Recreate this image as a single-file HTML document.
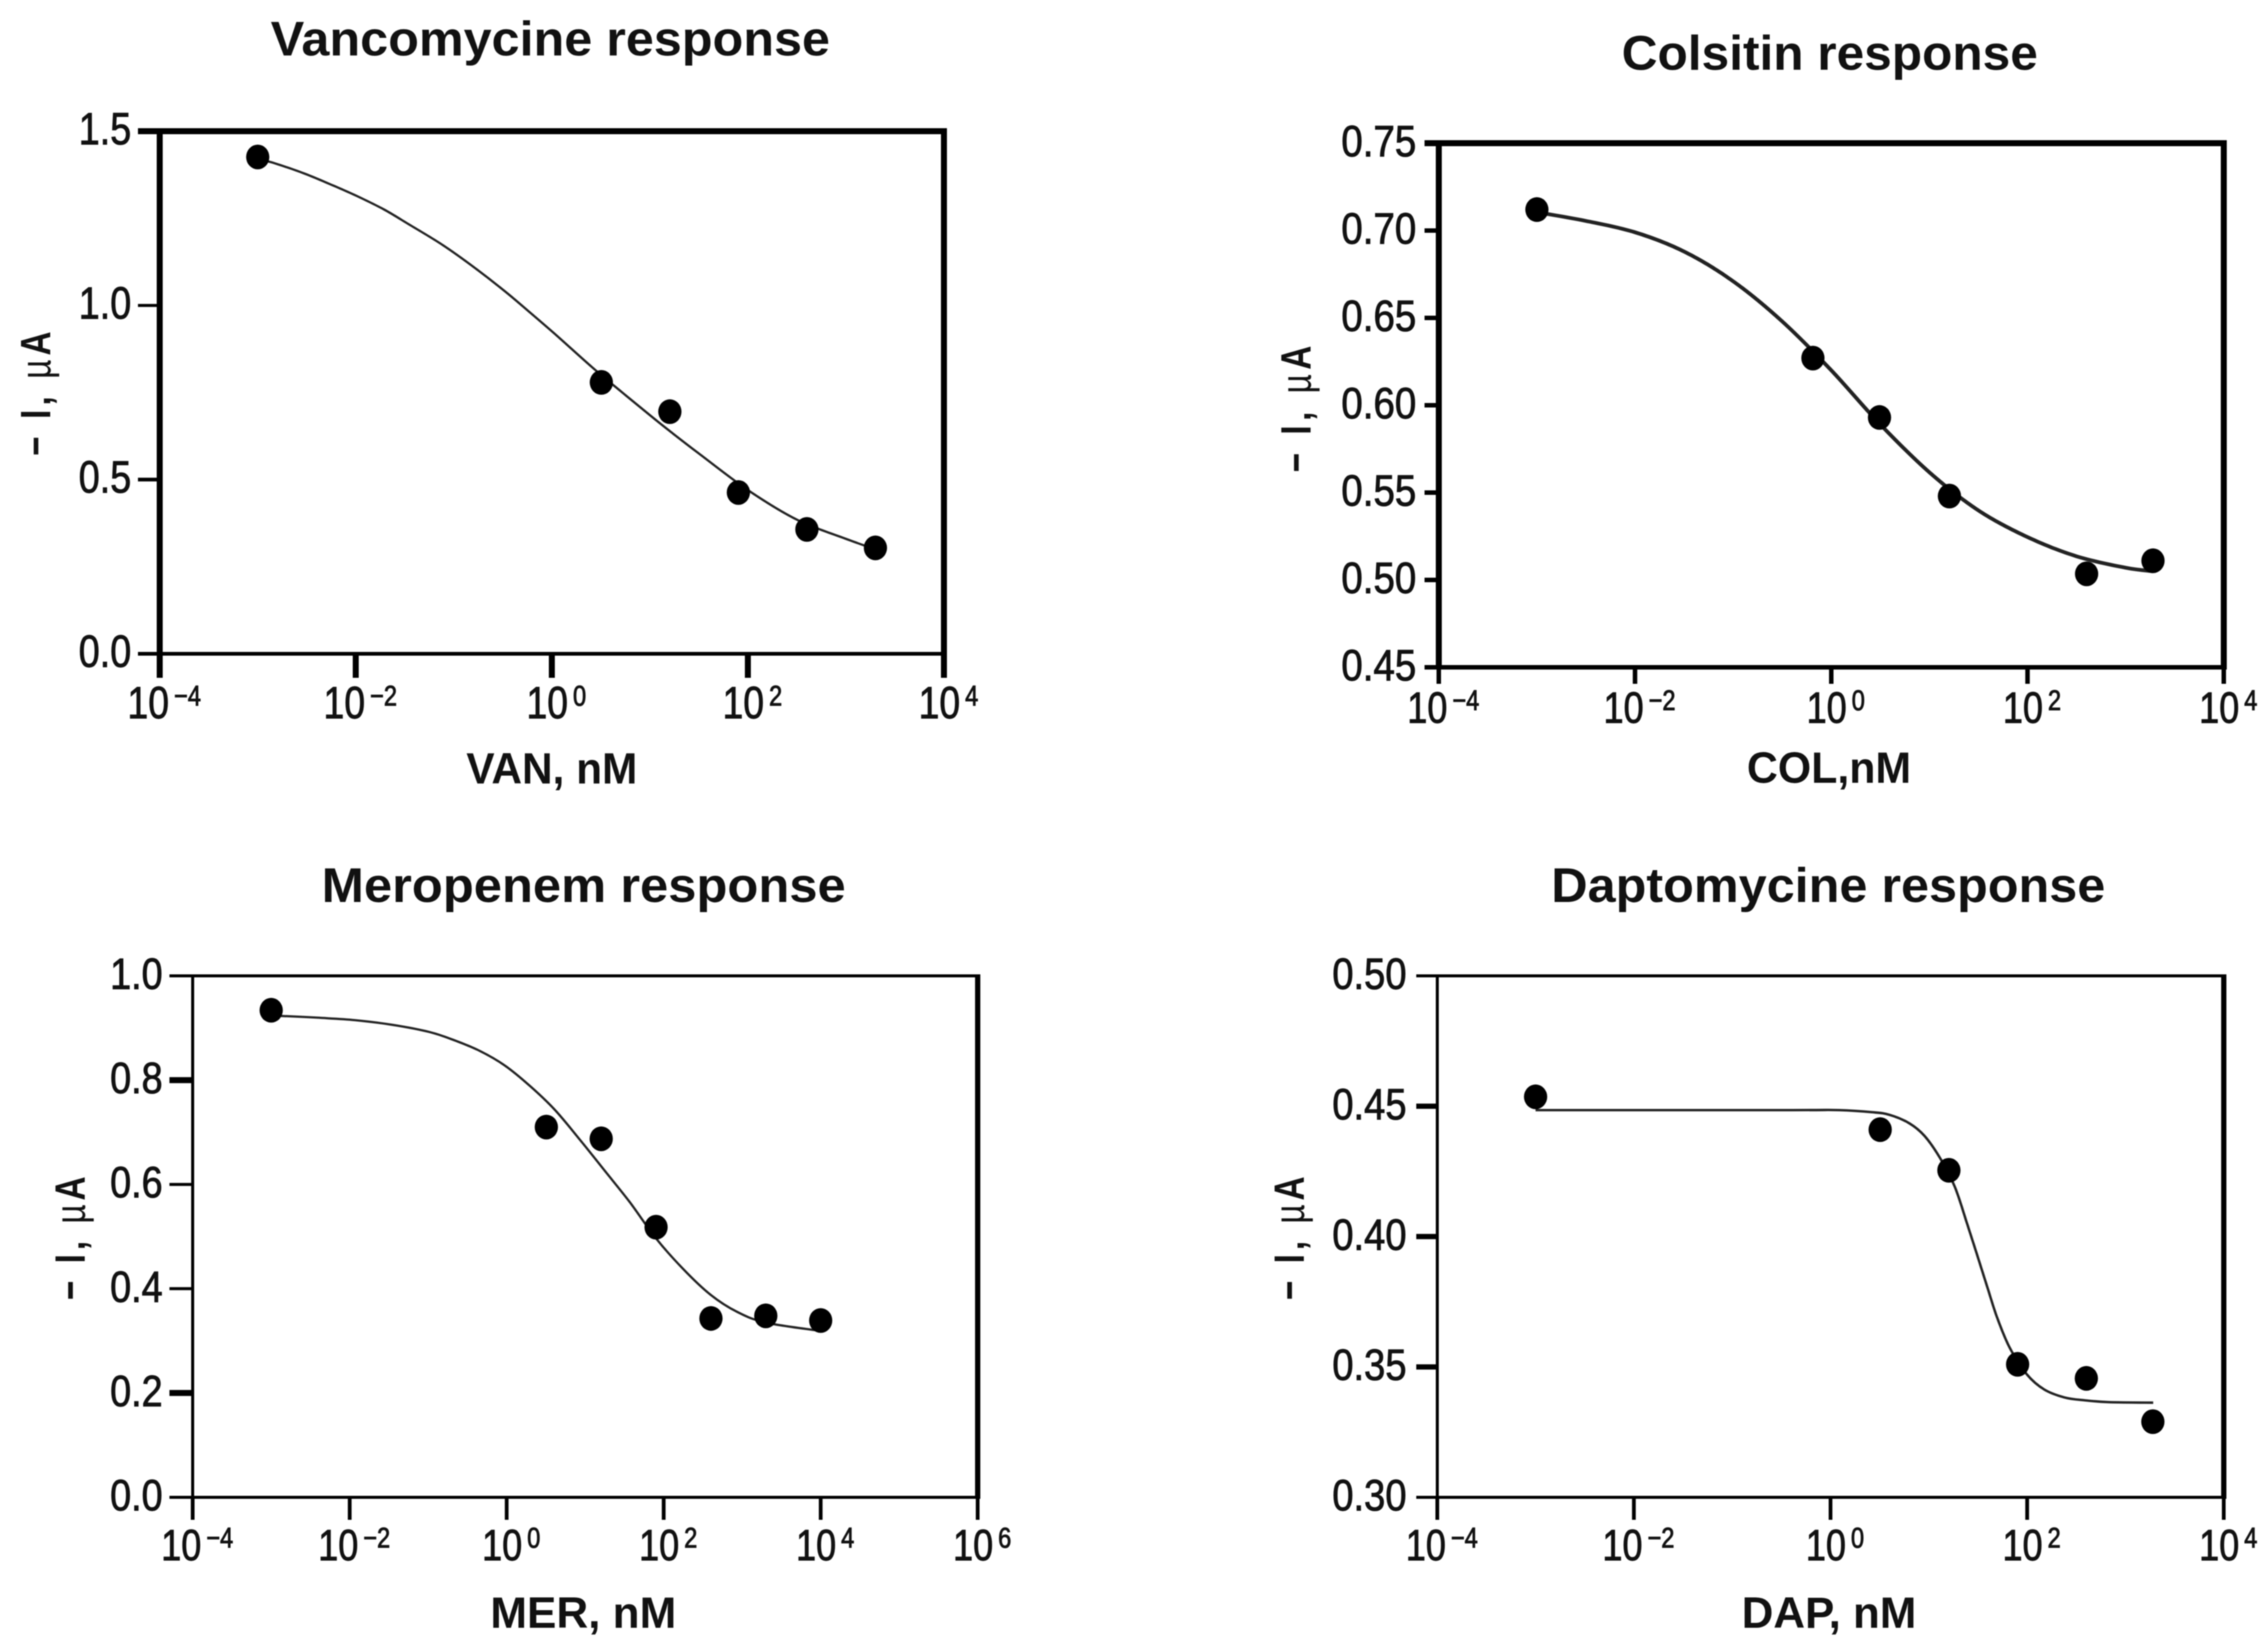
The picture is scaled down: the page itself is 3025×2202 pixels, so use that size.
<!DOCTYPE html>
<html lang="en">
<head>
<meta charset="utf-8">
<title>Antibiotic response curves</title>
<style>
html,body{margin:0;padding:0;background:#fff;}
#figure{display:block;width:3025px;height:2202px;filter:blur(0.7px);}
text{font-family:"Liberation Sans",Arial,sans-serif;fill:#111;}
</style>
</head>
<body>
<svg id="figure" xmlns="http://www.w3.org/2000/svg" width="3025" height="2202" viewBox="0 0 3025 2202"></svg>
<script>
// ---- Vancomycine data
const vanConc = [0.001, 3.2, 16, 80, 400, 2000];
const vanCurrent = [1.426, 0.779, 0.695, 0.463, 0.357, 0.304];
const vanCurveLog = [-3, -2.85, -2.519, -2.213, -1.958, -1.703, -1.448, -1.117, -0.811, -0.48, -0.224, 0.056, 0.413, 0.719, 1, 1.2, 1.5, 2, 2.5, 3, 3.3];
const vanCurveCurrent = [1.42, 1.41, 1.378, 1.342, 1.31, 1.274, 1.231, 1.174, 1.113, 1.041, 0.98, 0.912, 0.822, 0.75, 0.685, 0.64, 0.575, 0.47, 0.385, 0.33, 0.30];
const vanYTicks = ["0.0", "0.5", "1.0", "1.5"];
const vanXExponents = [-4, -2, 0, 2, 4];

// ---- Colistin data
const colConc = [0.001, 0.65, 3.1, 16, 400, 1900];
const colCurrent = [0.712, 0.627, 0.593, 0.548, 0.5035, 0.511];
const colCurveLog = [-3, -2.5, -2, -1.5, -1, -0.5, 0, 0.5, 1, 1.5, 2, 2.5, 3, 3.28];
const colCurveCurrent = [0.7105, 0.7055, 0.699, 0.688, 0.671, 0.648, 0.62, 0.589, 0.5616, 0.5398, 0.5245, 0.5135, 0.507, 0.505];
const colYTicks = ["0.45", "0.50", "0.55", "0.60", "0.65", "0.70", "0.75"];
const colXExponents = [-4, -2, 0, 2, 4];

// ---- Meropenem data
const merConc = [0.001, 3.2, 16, 80, 400, 2000, 10000];
const merCurrent = [0.934, 0.71, 0.6875, 0.518, 0.343, 0.348, 0.339];
const merCurveLog = [-3, -2.857, -2.411, -1.934, -1.456, -0.979, -0.66, -0.342, -0.024, 0.295, 0.613, 0.931, 1.25, 1.568, 1.9, 2.25, 2.6, 2.93, 3.3, 4];
const merCurveCurrent = [0.924, 0.923, 0.9197, 0.915, 0.906, 0.892, 0.876, 0.856, 0.828, 0.789, 0.743, 0.686, 0.626, 0.566, 0.497, 0.4375, 0.388, 0.356, 0.335, 0.319];
const merYTicks = ["0.0", "0.2", "0.4", "0.6", "0.8", "1.0"];
const merXExponents = [-4, -2, 0, 2, 4, 6];

// ---- Daptomycine data
const dapConc = [0.001, 3.2, 16, 80, 400, 1900];
const dapCurrent = [0.4536, 0.441, 0.4254, 0.351, 0.3456, 0.329];
const dapCurveLog = [-3, -0.468, 0.091, 0.422, 0.6, 0.803, 0.956, 1.108, 1.261, 1.388, 1.49, 1.591, 1.693, 1.82, 1.998, 2.176, 2.379, 2.583, 2.837, 3.282];
const dapCurveCurrent = [0.4485, 0.4485, 0.4485, 0.4477, 0.4467, 0.4434, 0.4386, 0.4305, 0.4194, 0.4051, 0.3931, 0.3811, 0.3691, 0.3576, 0.3471, 0.3413, 0.3383, 0.3372, 0.3365, 0.3363];
const dapYTicks = ["0.30", "0.35", "0.40", "0.45", "0.50"];
const dapXExponents = [-4, -2, 0, 2, 4];

const svg = document.getElementById('figure');
const NS = 'http://www.w3.org/2000/svg';

function make(tag, attrs, parent) {
  const node = document.createElementNS(NS, tag);
  for (const key in attrs) node.setAttribute(key, attrs[key]);
  parent.appendChild(node);
  return node;
}

function smoothPath(pts) {
  let d = 'M' + pts[0][0].toFixed(1) + ' ' + pts[0][1].toFixed(1);
  for (let i = 0; i < pts.length - 1; i++) {
    const p0 = pts[Math.max(i - 1, 0)], p1 = pts[i], p2 = pts[i + 1], p3 = pts[Math.min(i + 2, pts.length - 1)];
    const c1x = p1[0] + (p2[0] - p0[0]) / 6, c1y = p1[1] + (p2[1] - p0[1]) / 6;
    const c2x = p2[0] - (p3[0] - p1[0]) / 6, c2y = p2[1] - (p3[1] - p1[1]) / 6;
    d += 'C' + c1x.toFixed(1) + ' ' + c1y.toFixed(1) + ' ' + c2x.toFixed(1) + ' ' + c2y.toFixed(1) + ' ' + p2[0].toFixed(1) + ' ' + p2[1].toFixed(1);
  }
  return d;
}

function drawPanel(p) {
  const g = make('g', {}, svg);
  
  

  const xMin = p.exponents[0], xMax = p.exponents[p.exponents.length - 1];
  const yMin = parseFloat(p.yTicks[0]), yMax = parseFloat(p.yTicks[p.yTicks.length - 1]);
  const xLog = v => p.left + (v - xMin) / (xMax - xMin) * (p.right - p.left);
  const yVal = v => p.bottom - (v - yMin) / (yMax - yMin) * (p.bottom - p.top);

  // title
  const title = make('text', {x: p.titleX, y: p.titleY, 'font-size': 65, 'font-weight': 700, textLength: p.titleW, lengthAdjust: 'spacingAndGlyphs'}, g);
  title.textContent = p.title;
  
  

  // frame
  const frame = make('g', {stroke: '#000', fill: 'none'}, g);
  
  
  make('line', {x1: p.left, x2: p.right + p.wR / 2, y1: p.top, y2: p.top, 'stroke-width': p.wT}, frame);
  make('line', {x1: p.right, x2: p.right, y1: p.top, y2: p.bottom, 'stroke-width': p.wR}, frame);
  make('line', {x1: p.left, x2: p.right + p.wR / 2, y1: p.bottom, y2: p.bottom, 'stroke-width': p.wB}, frame);
  make('line', {x1: p.left, x2: p.left, y1: p.top - p.wT / 2, y2: p.bottom, 'stroke-width': p.wL}, frame);

  // y ticks
  p.yTicks.forEach((label, i) => {
    const v = parseFloat(label);
    const y = yVal(v);
    const tick = make('line', {x1: p.left - p.yTickLen, x2: p.left, y1: y, y2: y, stroke: '#000', 'stroke-width': p.yTickWs[i]}, g);
    
    
    const t = make('text', {'text-anchor': 'end', 'font-size': p.tickSize, stroke: '#111', 'stroke-width': 1.1, transform: 'translate(' + p.yLabelRight + ',' + (y + 17.5) + ') scale(' + p.tickSx + ',1)'}, g);
    t.textContent = label;
    
    
  });

  // x ticks
  p.exponents.forEach(exp => {
    const x = xLog(exp);
    const tick = make('line', {x1: x, x2: x, y1: p.bottom, y2: p.bottom + p.xTickLen, stroke: '#000', 'stroke-width': p.xTickW}, g);
    
    
    const t = make('text', {'text-anchor': 'middle', 'font-size': p.tickSize, stroke: '#111', 'stroke-width': 1.1, transform: 'translate(' + (x + 6) + ',' + p.xLabelY + ') scale(0.83,1)'}, g);
    
    
    const base = make('tspan', {}, t);
    base.textContent = '10';
    const sup = make('tspan', {'font-size': 38, dy: -17, dx: 8}, t);
    sup.textContent = String(exp).replace('-', '\u2212');
  });

  // axis titles
  const xt = make('text', {x: p.xTitleX, y: p.xTitleY + 1, 'font-size': 58, 'font-weight': 700, textLength: p.xTitleW, lengthAdjust: 'spacingAndGlyphs'}, g);
  xt.textContent = p.xTitle;
  
  

  const yt = make('text', {'font-size': 57, 'font-weight': 700, textLength: p.yTitleH / 0.78, lengthAdjust: 'spacing', transform: 'translate(' + p.yTitleX + ',' + p.yTitleBottom + ') rotate(-90) scale(0.78,1)'}, g);
  
  
  const a1 = make('tspan', {}, yt); a1.textContent = '\u2212 I, ';
  const a2 = make('tspan', {'font-weight': 400}, yt); a2.textContent = '\u00B5';
  const a3 = make('tspan', {}, yt); a3.textContent = 'A';

  // fitted curve
  const pts = p.curveLog.map((v, i) => [xLog(v), yVal(p.curveValues[i])]);
  const curve = make('path', {d: smoothPath(pts), fill: 'none', stroke: '#222', 'stroke-width': p.curveW}, g);
  
  

  // measured points
  p.conc.forEach((c, i) => {
    const dot = make('ellipse', {cx: xLog(Math.log10(c)), cy: yVal(p.current[i]), rx: 15.5, ry: 16.5, fill: '#000'}, g);
    
    
  });
}

drawPanel({key: 'vancomycine', title: 'Vancomycine response', titleX: 361, titleY: 74, titleW: 746,
  xTitle: 'VAN, nM', xTitleX: 622, xTitleY: 1044, xTitleW: 228,
  yTitleX: 67, yTitleBottom: 608, yTitleH: 166,
  left: 213, right: 1259, top: 175, bottom: 872, wT: 8, wR: 8, wB: 5, wL: 8,
  yTickLen: 29, yTickWs: [5, 5, 4, 8], xTickLen: 32, xTickW: 8, yLabelRight: 175, xLabelY: 958, tickSize: 60, tickSx: 0.84, curveW: 3,
  conc: vanConc, current: vanCurrent, curveLog: vanCurveLog, curveValues: vanCurveCurrent, yTicks: vanYTicks, exponents: vanXExponents});

drawPanel({key: 'colsitin', title: 'Colsitin response', titleX: 2163, titleY: 93, titleW: 555,
  xTitle: 'COL,nM', xTitleX: 2330, xTitleY: 1043, xTitleW: 219,
  yTitleX: 1748, yTitleBottom: 630, yTitleH: 169,
  left: 1919, right: 2966, top: 191, bottom: 890, wT: 8, wR: 8, wB: 6, wL: 8,
  yTickLen: 19, yTickWs: [6, 6, 6, 6, 6, 6, 8], xTickLen: 22, xTickW: 6, yLabelRight: 1889, xLabelY: 964, tickSize: 58, tickSx: 0.886, curveW: 5,
  conc: colConc, current: colCurrent, curveLog: colCurveLog, curveValues: colCurveCurrent, yTicks: colYTicks, exponents: colXExponents});

drawPanel({key: 'meropenem', title: 'Meropenem response', titleX: 429, titleY: 1203, titleW: 699,
  xTitle: 'MER, nM', xTitleX: 654, xTitleY: 2170, xTitleW: 248,
  yTitleX: 113, yTitleBottom: 1734, yTitleH: 165,
  left: 257, right: 1304, top: 1301.5, bottom: 1997, wT: 4, wR: 7, wB: 4, wL: 4,
  yTickLen: 31, yTickWs: [4, 8, 4, 4, 8, 4], xTickLen: 30, xTickW: 5, yLabelRight: 217, xLabelY: 2081, tickSize: 58, tickSx: 0.87, curveW: 3,
  conc: merConc, current: merCurrent, curveLog: merCurveLog, curveValues: merCurveCurrent, yTicks: merYTicks, exponents: merXExponents});

drawPanel({key: 'daptomycine', title: 'Daptomycine response', titleX: 2069, titleY: 1203, titleW: 739,
  xTitle: 'DAP, nM', xTitleX: 2323, xTitleY: 2170, xTitleW: 233,
  yTitleX: 1739, yTitleBottom: 1734, yTitleH: 165,
  left: 1917, right: 2966, top: 1301.5, bottom: 1997, wT: 4, wR: 7, wB: 4, wL: 4,
  yTickLen: 28, yTickWs: [4, 7, 7, 7, 4], xTickLen: 30, xTickW: 5, yLabelRight: 1876, xLabelY: 2081, tickSize: 58, tickSx: 0.877, curveW: 3.3,
  conc: dapConc, current: dapCurrent, curveLog: dapCurveLog, curveValues: dapCurveCurrent, yTicks: dapYTicks, exponents: dapXExponents});
</script>
</body>
</html>
